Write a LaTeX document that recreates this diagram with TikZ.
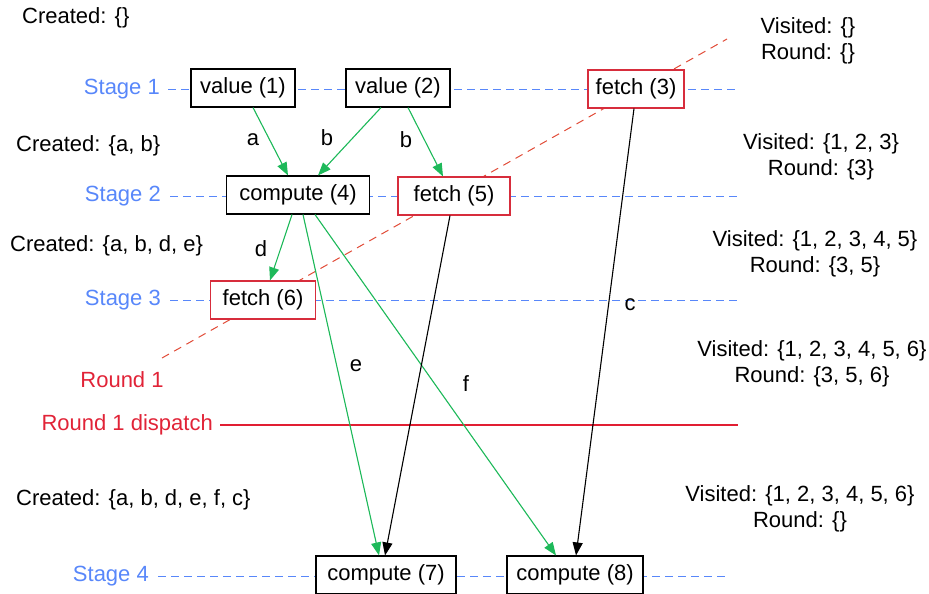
\documentclass[tikz,border=0pt]{standalone}
\usepackage{fontspec}
\setmainfont{Liberation Sans}
\usetikzlibrary{arrows.meta}
\definecolor{stageblue}{RGB}{88,135,250}
\definecolor{edgegreen}{RGB}{30,185,90}
\definecolor{boxred}{RGB}{215,45,60}
\definecolor{linered}{RGB}{225,75,55}
\definecolor{textred}{RGB}{225,35,55}
\definecolor{dispatchred}{RGB}{225,30,50}
\begin{document}
\begin{tikzpicture}[x=1pt,y=-1pt,
  every node/.style={font=\fontsize{22}{26}\selectfont, inner sep=0pt},
  box/.style={draw=black, line width=1.1pt, fill=white, minimum height=38pt},
  redbox/.style={box, draw=boxred},
  stagetext/.style={text=stageblue},
  stageline/.style={draw=stageblue, line width=1pt, dash pattern=on 8pt off 5pt},
  greenarrow/.style={draw=edgegreen, fill=edgegreen, line width=1.1pt, -{Triangle[length=13pt,width=10pt]}},
  blackarrow/.style={draw=black, line width=1.1pt, -{Triangle[length=13pt,width=10pt]}},
  info/.style={align=center},
]
\useasboundingbox (0,0) rectangle (929,594);

% stage labels and lines
\node[stagetext, anchor=east] (s1) at (160,89) {Stage 1};
\node[stagetext, anchor=east] (s2) at (161,196) {Stage 2};
\node[stagetext, anchor=east] (s3) at (161,300) {Stage 3};
\node[stagetext, anchor=east] (s4) at (149,576) {Stage 4};
\coordinate (s1e) at (738,89);
\coordinate (s2e) at (738,196);
\coordinate (s3e) at (738,300);
\coordinate (s4e) at (725,576);
\draw[stageline] ([xshift=8pt]s1.east) -- (s1e);
\draw[stageline] ([xshift=9pt]s2.east) -- (s2e);
\draw[stageline] ([xshift=9pt]s3.east) -- (s3e);
\draw[stageline] ([xshift=9pt]s4.east) -- (s4e);

% round 1 boundary
\node[text=textred] (r1) at (122,380) {Round 1};
\coordinate (r1a) at (162,358);
\coordinate (r1b) at (727,39);
\draw[draw=linered, line width=1pt, dash pattern=on 8pt off 6pt] (r1a) -- (r1b);

\node[text=textred, anchor=east] (rd) at (213,425) {Round 1 dispatch};
\coordinate (rdw) at (220,424.4);
\coordinate (rde) at (738,426);
\fill[dispatchred] (rdw) rectangle (rde);

% nodes
\node[box, minimum width=104pt] (v1) at (243,88) {value (1)};
\node[box, minimum width=104pt] (v2) at (398,88) {value (2)};
\node[redbox, minimum width=96pt] (f3) at (636,89) {fetch (3)};
\node[box, minimum width=143pt] (c4) at (298,195) {compute (4)};
\node[redbox, minimum width=112pt] (f5) at (454,196) {fetch (5)};
\node[redbox, minimum width=105pt] (f6) at (263,300) {fetch (6)};
\node[box, minimum width=140pt] (c7) at (386,575) {compute (7)};
\node[box, minimum width=136pt] (c8) at (575,575) {compute (8)};

% edges
\draw[greenarrow] ([xshift=10pt]v1.south) -- ([xshift=-10pt]c4.north);
\draw[greenarrow] ([xshift=-17pt]v2.south) -- ([xshift=20pt]c4.north);
\draw[greenarrow] ([xshift=10pt]v2.south) -- ([xshift=-11pt]f5.north);
\draw[greenarrow] ([xshift=-6pt]c4.south) -- ([xshift=7pt]f6.north);
\draw[greenarrow] ([xshift=5pt]c4.south) -- ([xshift=-7pt]c7.north);
\draw[greenarrow] ([xshift=17pt]c4.south) -- ([xshift=-19pt]c8.north);
\draw[blackarrow] ([xshift=-4pt]f5.south) -- ([xshift=-1pt]c7.north);
\draw[blackarrow] ([xshift=-2pt]f3.south) -- ([xshift=1pt]c8.north);

% edge labels
\node (la) at (253,140) {a};
\node (lb1) at (327,138) {b};
\node (lb2) at (406,140) {b};
\node (ld) at (261,249) {d};
\node (le) at (356,366) {e};
\node (lf) at (466,384) {f};
\node (lc) at (630,305) {c};

% created labels
\node[anchor=west] (cr0) at (22,18) {Created: \{\}};
\node[anchor=west] (cr1) at (16,146) {Created: \{a, b\}};
\node[anchor=west] (cr2) at (10,246) {Created: \{a, b, d, e\}};
\node[anchor=west] (cr3) at (16,500) {Created: \{a, b, d, e, f, c\}};

% visited labels
\node[info] (vi0) at (808,41) {Visited: \{\}\\Round: \{\}};
\node[info] (vi1) at (821,157) {Visited: \{1, 2, 3\}\\Round: \{3\}};
\node[info] (vi2) at (815,254) {Visited: \{1, 2, 3, 4, 5\}\\Round: \{3, 5\}};
\node[info] (vi3) at (812,364) {Visited: \{1, 2, 3, 4, 5, 6\}\\Round: \{3, 5, 6\}};
\node[info] (vi4) at (800,509) {Visited: \{1, 2, 3, 4, 5, 6\}\\Round: \{\}};
\end{tikzpicture}
\end{document}
